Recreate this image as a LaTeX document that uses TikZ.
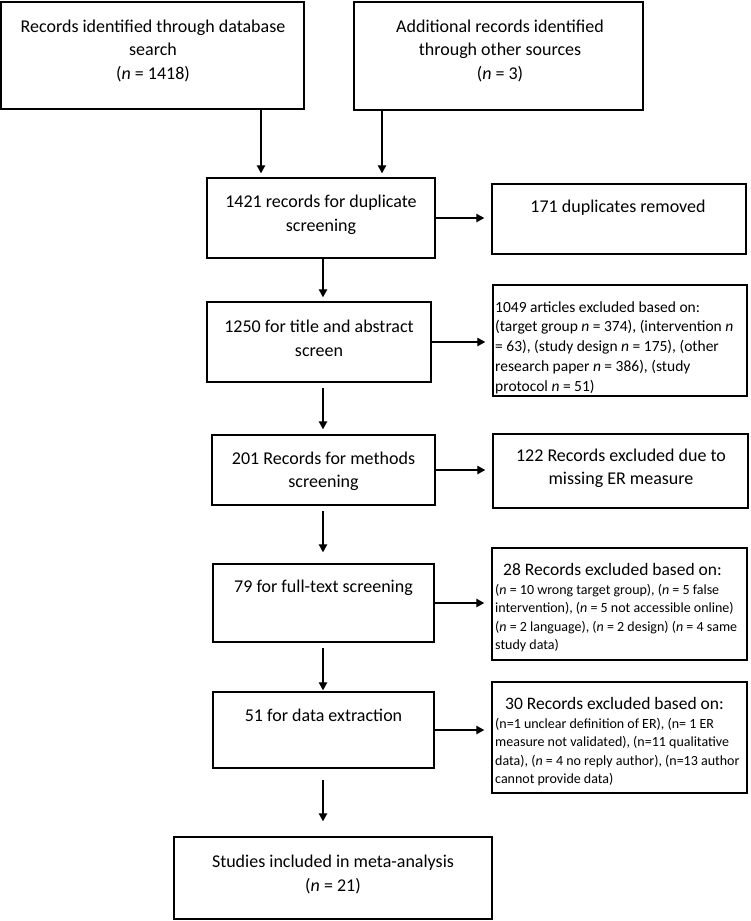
\documentclass[tikz,border=0pt]{standalone}
\usepackage{fontspec}
\setmainfont{Carlito}
\usetikzlibrary{arrows.meta}
\newlength{\du}
\setlength{\du}{1pt}
\tikzset{
  flowbox/.style={draw, rectangle, line width=1.5\du, inner sep=0pt},
  flowtext/.style={inner sep=0pt, align=center, font=\fontsize{18}{23.5}\selectfont},
  notetext/.style={inner sep=0pt, align=left, anchor=west, font=\fontsize{14}{18.5}\selectfont},
  flowarrow/.style={line width=1.2\du, -{Triangle[length=8pt,width=8.5pt]}}
}

\begin{document}
\begin{tikzpicture}
\pgftransformxscale{1.000000}
\pgftransformyscale{-1.000000}
\definecolor{dialinecolor}{rgb}{0.000000, 0.000000, 0.000000}
\pgfsetstrokecolor{dialinecolor}
\useasboundingbox (0\du,0\du) rectangle (751\du,921\du);
% boxes
\node[flowbox, minimum width=303\du, minimum height=107\du] (db) at (152.5\du,55.5\du) {};
\node[flowbox, minimum width=289\du, minimum height=108\du] (other) at (498.5\du,56\du) {};
\node[flowbox, minimum width=228\du, minimum height=80\du] (dup) at (321\du,218\du) {};
\node[flowbox, minimum width=254\du, minimum height=70\du] (removed) at (619\du,219\du) {};
\node[flowbox, minimum width=224\du, minimum height=80\du] (title) at (319\du,342\du) {};
\node[flowbox, minimum width=254\du, minimum height=111\du] (excl1) at (620\du,340.5\du) {};
\node[flowbox, minimum width=223\du, minimum height=70\du] (methods) at (323.5\du,470\du) {};
\node[flowbox, minimum width=255\du, minimum height=74\du] (excl2) at (620.5\du,471\du) {};
\node[flowbox, minimum width=221\du, minimum height=78\du] (fulltext) at (323.5\du,603\du) {};
\node[flowbox, minimum width=255\du, minimum height=112\du] (excl3) at (619.5\du,604\du) {};
\node[flowbox, minimum width=221\du, minimum height=76\du] (extract) at (323.5\du,730\du) {};
\node[flowbox, minimum width=255\du, minimum height=111\du] (excl4) at (619.5\du,737.5\du) {};
\node[flowbox, minimum width=318\du, minimum height=82\du] (incl) at (333\du,878\du) {};
% setfont left to latex
\node[flowtext] (dbtext) at (153\du,50.5\du) {Records identified through database\\search\\(\textit{n} = 1418)};
\node[flowtext] (othertext) at (500\du,50.5\du) {Additional records identified\\through other sources\\(\textit{n} = 3)};
\node[flowtext] (duptext) at (321\du,215\du) {1421 records for duplicate\\screening};
\node[flowtext] (removedtext) at (618\du,208\du) {171 duplicates removed};
\node[flowtext] (titletext) at (319\du,338.5\du) {1250 for title and abstract\\screen};
\node[notetext, font=\fontsize{15.5}{19.7}\selectfont] (excl1text) at (495\du,347.5\du) {1049 articles excluded based on:\\(target group \textit{n} = 374), (intervention \textit{n}\\= 63), (study design \textit{n} = 175), (other\\research paper \textit{n} = 386), (study\\protocol \textit{n} = 51)};
\node[flowtext] (methodstext) at (323.5\du,471.5\du) {201 Records for methods\\screening};
\node[flowtext] (excl2text) at (621\du,468.5\du) {122 Records excluded due to\\missing ER measure};
\node[flowtext] (fulltexttext) at (323.5\du,588\du) {79 for full-text screening};
\node[notetext] (excl3text) at (495\du,608\du) {\hspace*{8pt}{\fontsize{17.5}{21}\selectfont 28 Records excluded based on:}\\(\textit{n} = 10 wrong target group), (\textit{n} = 5 false\\intervention), (\textit{n} = 5 not accessible online)\\(\textit{n} = 2 language), (\textit{n} = 2 design) (\textit{n} = 4 same\\study data)};
\node[flowtext] (extracttext) at (323.5\du,715\du) {51 for data extraction};
\node[notetext] (excl4text) at (495\du,742\du) {\hspace*{10pt}{\fontsize{17.5}{21}\selectfont 30 Records excluded based on:}\\(n=1 unclear definition of ER), (n= 1 ER\\measure not validated), (n=11 qualitative\\data), (\textit{n} = 4 no reply author), (n=13 author\\cannot provide data)};
\node[flowtext] (incltext) at (333\du,874.5\du) {Studies included in meta-analysis\\(\textit{n} = 21)};
% connectors
\coordinate (dbdrop) at (261\du,0\du);
\coordinate (otherdrop) at (382\du,0\du);
\coordinate (spine) at (323\du,0\du);
\draw[flowarrow, shorten >=4pt] (db.south -| dbdrop) -- (dup.north -| dbdrop);
\draw[flowarrow, shorten >=4pt] (other.south -| otherdrop) -- (dup.north -| otherdrop);
\draw[flowarrow, shorten >=7pt] (dup.east) -- (dup.east -| removed.west);
\draw[flowarrow, shorten >=4pt] (dup.south -| spine) -- (title.north -| spine);
\draw[flowarrow, shorten >=7pt] (title.east) -- (title.east -| excl1.west);
\draw[flowarrow, shorten <=5pt, shorten >=5pt] (title.south -| spine) -- (methods.north -| spine);
\draw[flowarrow, shorten >=7pt] (methods.east) -- (methods.east -| excl2.west);
\draw[flowarrow, shorten <=5pt, shorten >=11pt] (methods.south -| spine) -- (fulltext.north -| spine);
\draw[flowarrow, shorten >=7pt] (fulltext.east) -- (fulltext.east -| excl3.west);
\draw[flowarrow, shorten <=5pt, shorten >=1pt] (fulltext.south -| spine) -- (extract.north -| spine);
\draw[flowarrow, shorten >=7pt] (extract.east) -- (extract.east -| excl4.west);
\draw[flowarrow, shorten <=11pt, shorten >=15pt] (extract.south -| spine) -- (incl.north -| spine);
\end{tikzpicture}
\end{document}
